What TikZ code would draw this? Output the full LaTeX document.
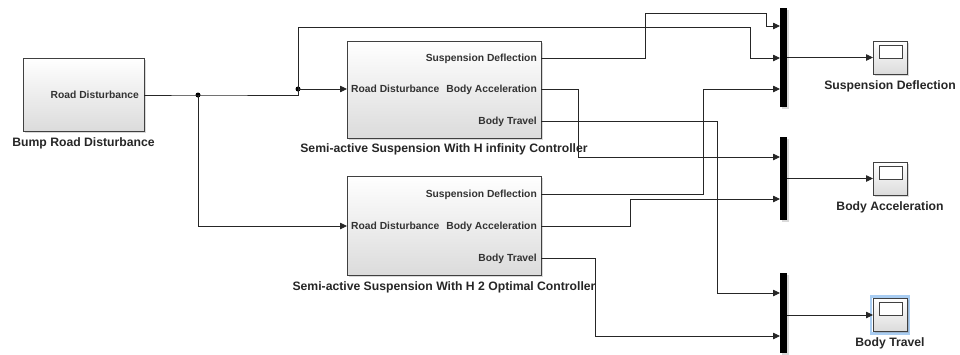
\documentclass[tikz,border=0pt]{standalone}
\usepackage{fontspec}
\setsansfont{Liberation Sans}
\usetikzlibrary{shapes,arrows.meta,shadows,backgrounds,positioning,fit}
\definecolor{SelBlue}{HTML}{A9CDF2}

\begin{document}
\begin{tikzpicture}[x=1pt,y=-1pt]
			\tikzstyle{Block}	= [draw=black!75, line width=0.8pt, top color=white, bottom color=black!14, inner sep=0pt, outer sep=0pt, drop shadow={shadow xshift=1.5pt, shadow yshift=-1.5pt, opacity=0.3}]
			\tikzstyle{Mux}		= [fill=black, minimum width=7pt, inner sep=0pt, outer sep=0pt, drop shadow={shadow xshift=1.5pt, shadow yshift=-1.5pt, opacity=0.3}]
			\tikzstyle{Scope}	= [Block, minimum width=34pt, minimum height=33pt]
			\tikzstyle{ScopeWin}	= [draw=black!75, line width=0.8pt, fill=white]
			\tikzstyle{Port}	= [font=\sffamily\bfseries\fontsize{10.3}{12}\selectfont, text=black!80, inner sep=0pt, text height=7.5pt, text depth=0pt]
			\tikzstyle{Title}	= [font=\sffamily\bfseries\fontsize{12.2}{14}\selectfont, text=black!85, inner sep=0pt, text height=9pt, text depth=0pt]
			\tikzstyle{Sig}		= [line width=0.75pt, black!85]
			\tikzstyle{Dot}		= [circle, fill=black, minimum size=5pt, inner sep=0pt]
			\tikzstyle{To}		= [-{Triangle[length=7pt,width=6.5pt]}]

			\useasboundingbox (0,0) rectangle (960,354);

			% blocks
			\node (bump) at (83.5,94.5) [Block, minimum width=121pt, minimum height=73pt, label={[Title, label distance=6pt]below:Bump Road Disturbance}] {};
			\node (hinf) at (444,89.5) [Block, minimum width=194pt, minimum height=97pt, label={[Title, label distance=5.5pt]below:Semi-active Suspension With H infinity Controller}] {};
			\node (htwo) at (444,225.5) [Block, minimum width=194pt, minimum height=99pt, label={[Title, label distance=6pt]below:Semi-active Suspension With H 2 Optimal Controller}] {};

			\node (bump-lbl) at (139,95) [Port, anchor=east] {Road Disturbance};
			\coordinate (bump-out) at (144,95);

			\foreach \b/\sd/\ba/\bt in {hinf/58/89/121, htwo/194/226/258} {
				\node (\b-sdl) at (537,\sd) [Port, anchor=east] {Suspension Deflection};
				\node (\b-bal) at (537,\ba) [Port, anchor=east] {Body Acceleration};
				\node (\b-btl) at (537,\bt) [Port, anchor=east] {Body Travel};
				\node (\b-inl) at (351,\ba) [Port, anchor=west] {Road Disturbance};
				\coordinate (\b-sd) at (541,\sd);
				\coordinate (\b-ba) at (541,\ba);
				\coordinate (\b-bt) at (541,\bt);
				\coordinate (\b-in) at (347,\ba);
			}

			% muxes and scopes
			\node (muxa) at (783.5,57.5) [Mux, minimum height=99pt] {};
			\node (muxb) at (783.5,178.5) [Mux, minimum height=83pt] {};
			\node (muxc) at (783.5,313) [Mux, minimum height=80pt] {};

			\node (sa) at (890,57.5) [Scope, label={[Title, label distance=6pt]below:Suspension Deflection}] {};
			\node (sb) at (890,178.5) [Scope, label={[Title, label distance=6pt]below:Body Acceleration}] {};
			\node (sc) at (890,315) [Scope, label={[Title, label distance=5.5pt]below:Body Travel}] {};
			\begin{scope}[on background layer]
				\node (sel) [fit=(sc), inner sep=2pt, draw=SelBlue, line width=2.5pt] {};
			\end{scope}
			\foreach \n in {sa, sb, sc}
				\draw [ScopeWin] ([shift={(6,4)}]\n.north west) rectangle ([shift={(-5,17)}]\n.north east);

			\foreach \m/\y in {a1/26, a2/58, a3/89, b1/157, b2/199, c1/293, c2/336}
				\coordinate (mux\m) at (780,\y);

			% signals
			\node (ja) at (198,95) [Dot] {};
			\node (jb) at (298,89) [Dot] {};
			\draw [Sig] (bump-out) -- (ja.center) -- (298,95) -- (jb.center);
			\draw [Sig, To] (jb.center) -- (hinf-in);
			\draw [Sig, To] (jb.center) |- (750,27) |- (muxa2);
			\draw [Sig, To] (ja.center) |- (htwo-in);

			\draw [Sig, To] (hinf-sd) -| (645,13) -| (766,26) -- (muxa1);
			\draw [Sig, To] (hinf-ba) -| (578,157) -- (muxb1);
			\draw [Sig, To] (hinf-bt) -| (717,293) -- (muxc1);
			\draw [Sig, To] (htwo-sd) -| (703,89) -- (muxa3);
			\draw [Sig, To] (htwo-ba) -| (630,199) -- (muxb2);
			\draw [Sig, To] (htwo-bt) -| (595,336) -- (muxc2);

			\foreach \m/\s in {muxa/sa, muxb/sb, muxc/sc}
				\draw [Sig, To] (\m.east |- \s.west) -- (\s.west);
		\end{tikzpicture}
\end{document}
